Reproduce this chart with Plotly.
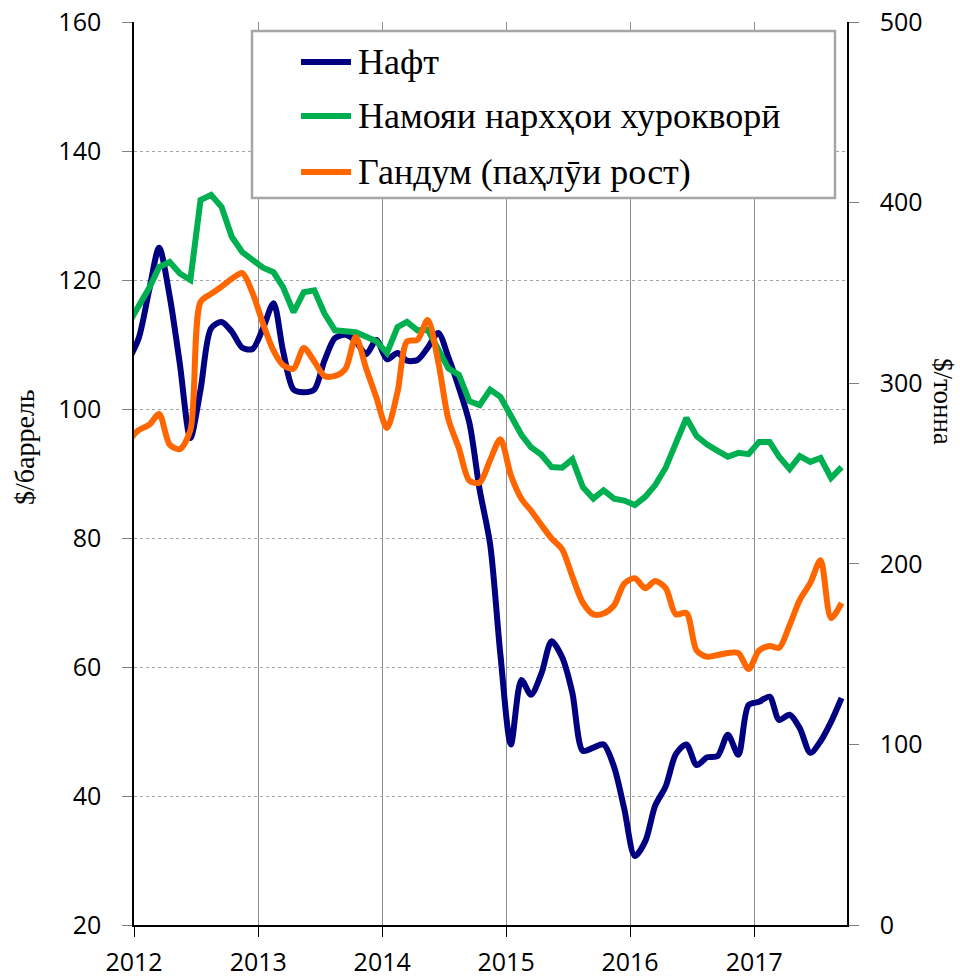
import pandas as pd
import plotly.graph_objects as go

# Monthly observations, Dec 2011 .. Sep 2017 (plotted mid-month)
months = pd.date_range("2011-12-01", "2017-09-01", freq="MS") + pd.Timedelta(days=14)

oil = [107.5, 111, 118.5, 125, 117.5, 107, 95.5, 103, 112.5, 113.5, 112, 109.5, 109.3,
       112.5, 116.4, 109, 103, 102.6, 103, 107.5, 111, 111.5, 110.5, 108.5, 110.7,
       107.7, 108.7, 107.5, 107.6, 109.5, 111.8, 108, 103.3, 97.8, 87.5, 79, 62,
       48, 58, 55.7, 59, 64, 61.5, 56, 47, 47.5, 48, 44.5, 38,
       30.7, 33, 38.5, 41.5, 46.5, 48, 44.8, 46, 46.2, 49.5, 46.4, 54.1,
       54.6, 55.4, 51.8, 52.6, 50.5, 46.7, 48.5, 51.5, 55.2]

food = [113.2, 116, 118.8, 122, 122.8, 121, 120, 132.4, 133.2, 131.3, 126.7, 124.3, 123.1,
        121.9, 121.2, 118.9, 115, 118.1, 118.4, 114.8, 112.2, 112, 111.9, 111.2, 110.5,
        108.7, 112.7, 113.5, 112.2, 112.3, 109.3, 106.3, 105.3, 101.2, 100.6, 103, 101.9,
        98.8, 96, 94.1, 92.9, 91, 90.9, 92.2, 87.9, 86.1, 87.4, 86.1, 85.8,
        85.1, 86.4, 88.2, 90.9, 94.7, 98.6, 95.8, 94.5, 93.5, 92.6, 93.2, 93,
        94.9, 94.9, 92.6, 90.7, 92.7, 91.8, 92.4, 89.3, 91]

wheat = [268, 274, 277, 283, 266, 263.5, 274, 345, 349.5, 353.5, 357.8, 361, 350,
         333, 318, 310, 308, 319.5, 312, 304, 304, 308, 325.6, 308, 292,
         275.2, 295, 323, 324, 335, 312, 280, 264, 246, 245, 257.5, 269,
         249, 236, 229.5, 221.5, 214, 208, 193, 178.5, 172, 172.5, 177, 189,
         192, 186.5, 190.5, 186.5, 172, 172.8, 152, 148.5, 149.5, 150.6, 150.6, 141.7,
         152, 154.5, 153.5, 166, 180, 189.4, 202, 170, 178.3]

names = ["Нафт", "Намояи нархҳои хуроквор\u04e3", "Гандум (паҳл\u04efи рост)"]
colors = ["#000080", "#00B050", "#FF6600"]
left_title = "$/баррель"
right_title = "$/тонна"

W, H = 960, 978
# target plot area in page pixels: x 134..847, y 22..925
ML, MT = 134, 22
MR, MB = W - 847, H - 925
PW, PH = W - ML - MR, H - MT - MB


def px(x):
    return (x - ML) / PW


def py(y):
    return (H - MB - y) / PH


fig = go.Figure()
fig.add_trace(go.Scatter(x=months, y=oil, mode="lines", name=names[0],
                         line=dict(color=colors[0], width=6, shape="spline", smoothing=0.8),
                         showlegend=False))
fig.add_trace(go.Scatter(x=months, y=food, mode="lines", name=names[1],
                         line=dict(color=colors[1], width=6),
                         showlegend=False))
fig.add_trace(go.Scatter(x=months, y=wheat, mode="lines", name=names[2], yaxis="y2",
                         line=dict(color=colors[2], width=6, shape="spline", smoothing=0.8),
                         showlegend=False))

tickfont = dict(family="Open Sans", size=25, color="black")

fig.update_layout(
    width=W, height=H,
    margin=dict(l=ML, r=MR, t=MT, b=MB, pad=0, autoexpand=False),
    paper_bgcolor="white", plot_bgcolor="white",
    xaxis=dict(type="date", range=["2012-01-01", "2017-10-01"], automargin=False,
               tick0="2012-01-01", dtick="M12", tickformat="%Y",
               showgrid=True, gridcolor="#8c8c8c", gridwidth=1,
               showline=True, linecolor="black", linewidth=1.5,
               ticks="outside", ticklen=10, tickcolor="black", tickwidth=1,
               tickfont=tickfont,
               ticklabelstandoff=4, ticklabeloverflow="allow", zeroline=False),
    yaxis=dict(range=[20, 160], tick0=20, dtick=20, automargin=False,
               showgrid=True, gridcolor="#a6a6a6", griddash="dot", gridwidth=1,
               showline=True, linecolor="black", linewidth=1.5,
               ticks="outside", ticklen=10, tickcolor="#808080",
               tickfont=tickfont, ticklabelstandoff=16, ticklabeloverflow="allow",
               zeroline=False),
    yaxis2=dict(range=[0, 500], tick0=0, dtick=100, overlaying="y", side="right",
                automargin=False,
                showgrid=False, showline=True, linecolor="black", linewidth=1.5,
                ticks="outside", ticklen=10, tickcolor="#808080",
                tickfont=tickfont, ticklabelstandoff=16, ticklabeloverflow="allow",
                zeroline=False),
)

# Legend box (custom, to match the reference layout)
shapes = [dict(type="rect", xref="paper", yref="paper",
               x0=px(252), x1=px(835), y0=py(198), y1=py(31),
               line=dict(color="#a6a6a6", width=2.5), fillcolor="white", layer="above")]
annotations = []
rows = [62, 116, 172]
for name, col, ry in zip(names, colors, rows):
    shapes.append(dict(type="line", xref="paper", yref="paper",
                       x0=px(301), x1=px(351), y0=py(ry), y1=py(ry),
                       line=dict(color=col, width=6), layer="above"))
    annotations.append(dict(text=name, xref="paper", yref="paper",
                            x=px(356), y=py(ry), xanchor="left", yanchor="middle",
                            showarrow=False,
                            font=dict(family="Liberation Serif", size=36, color="black")))

annotations.append(dict(text=left_title, xref="paper", yref="paper",
                        x=px(24), y=py(447), textangle=-90, showarrow=False,
                        xanchor="center", yanchor="middle",
                        font=dict(family="Liberation Serif", size=28, color="black")))
annotations.append(dict(text=right_title, xref="paper", yref="paper",
                        x=px(943), y=py(401), textangle=90, showarrow=False,
                        xanchor="center", yanchor="middle",
                        font=dict(family="Liberation Serif", size=27, color="black")))

fig.update_layout(shapes=shapes, annotations=annotations)
fig.write_html("out.html",
               config={"displayModeBar": False},
               post_script="document.body.style.margin='0';"
                           "document.body.style.overflow='hidden';")
